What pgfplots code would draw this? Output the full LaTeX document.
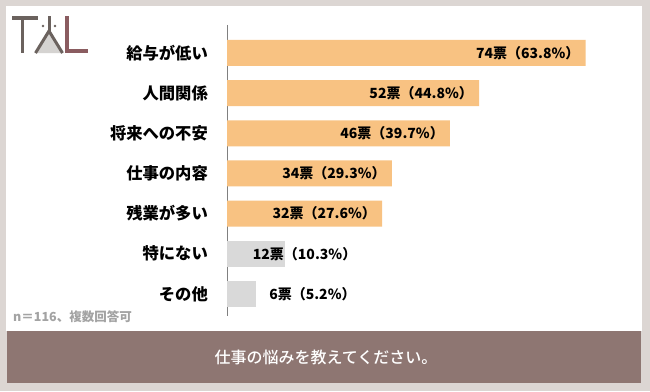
\documentclass[border=0pt]{standalone}
\usepackage{fontspec}
\setmainfont{Noto Sans CJK JP}
\newfontfamily\medfont{Noto Sans CJK JP}[UprightFont=* Medium]
\usepackage{pgfplots}
\pgfplotsset{compat=1.18}
\definecolor{frame}{HTML}{DCD6D3}
\definecolor{band}{HTML}{8E7672}
\definecolor{barO}{HTML}{F8C282}
\definecolor{barG}{HTML}{D9D9D9}
\definecolor{logoT}{HTML}{6B625E}
\definecolor{logoL}{HTML}{8A5C60}
\definecolor{logoA}{HTML}{D5D3D1}
\definecolor{notegray}{HTML}{A3A3A3}
\begin{document}
\begin{tikzpicture}
\useasboundingbox (0pt,0pt) rectangle (650pt,-391pt);
\fill[frame] (0pt,0pt) rectangle (650pt,-391pt);
\fill[white] (6pt,-6pt) rectangle (642pt,-331pt);
\fill[band] (7pt,-331pt) rectangle (641pt,-383pt);
\node[white, font=\medfont\fontsize{16}{16}\selectfont] at (326pt,-357pt) {仕事の悩みを教えてください。};
\node[anchor=west, text=notegray, font=\bfseries\fontsize{12.5}{12.5}\selectfont, inner sep=0pt] at (13pt,-317pt) {n＝116、複数回答可};
% logo
\fill[logoA] (49pt,-31pt) -- (36pt,-53pt) -- (62pt,-53pt) -- cycle;
\draw[logoT, line width=3.6pt] (12pt,-17.8pt) -- (38pt,-17.8pt);
\draw[logoT, line width=3.6pt] (22.5pt,-17.8pt) -- (22.5pt,-53pt);
\draw[logoT, line width=3pt] (49pt,-16pt) -- (49pt,-32pt);
\draw[logoT, line width=3pt] (35.5pt,-53pt) -- (49pt,-31pt) -- (62.5pt,-53pt);
\fill[logoT] (43pt,-26pt) circle (1.4pt);
\fill[logoT] (55pt,-26pt) circle (1.4pt);
\draw[logoL, line width=3.6pt] (67pt,-16pt) -- (67pt,-51.2pt) -- (88pt,-51.2pt);
\begin{axis}[
  at={(227pt,-316pt)}, anchor=south west,
  scale only axis, width=412pt, height=291.2pt,
  xmin=0, xmax=85, ymin=-0.7, ymax=6.55, y dir=reverse,
  axis x line=none, axis y line*=left,
  y axis line style={draw=gray, line width=0.9pt, -},
  ytick={0,...,6},
  yticklabels={給与が低い,人間関係,将来への不安,仕事の内容,残業が多い,特にない,その他},
  major tick length=0pt,
  yticklabel style={font=\bfseries\fontsize{16.3}{16}\selectfont, inner sep=0pt, xshift=-19pt},
  xbar, bar width=26pt, bar shift=0pt,
  clip=false,
  point meta=explicit symbolic,
  nodes near coords,
  every node near coord/.append style={font=\bfseries\fontsize{14}{14}\selectfont, text=black, inner sep=0pt},
]
\addplot[fill=barO, draw=none, every node near coord/.append style={anchor=east, xshift=-6pt}] coordinates {
  (74,0) [74票（63.8\%）]
  (52,1) [52票（44.8\%）]
  (46,2) [46票（39.7\%）]
  (34,3) [34票（29.3\%）]
  (32,4) [32票（27.6\%）]
};
\addplot[fill=barG, draw=none, every node near coord/.append style={anchor=east, xshift=-1pt}] coordinates {
  (12,5) [12票\rlap{（10.3\%）}]
};
\addplot[fill=barG, draw=none, every node near coord/.append style={anchor=west, xshift=13pt}] coordinates {
  (6,6) [6票（5.2\%）]
};
\end{axis}
\end{tikzpicture}
\end{document}
